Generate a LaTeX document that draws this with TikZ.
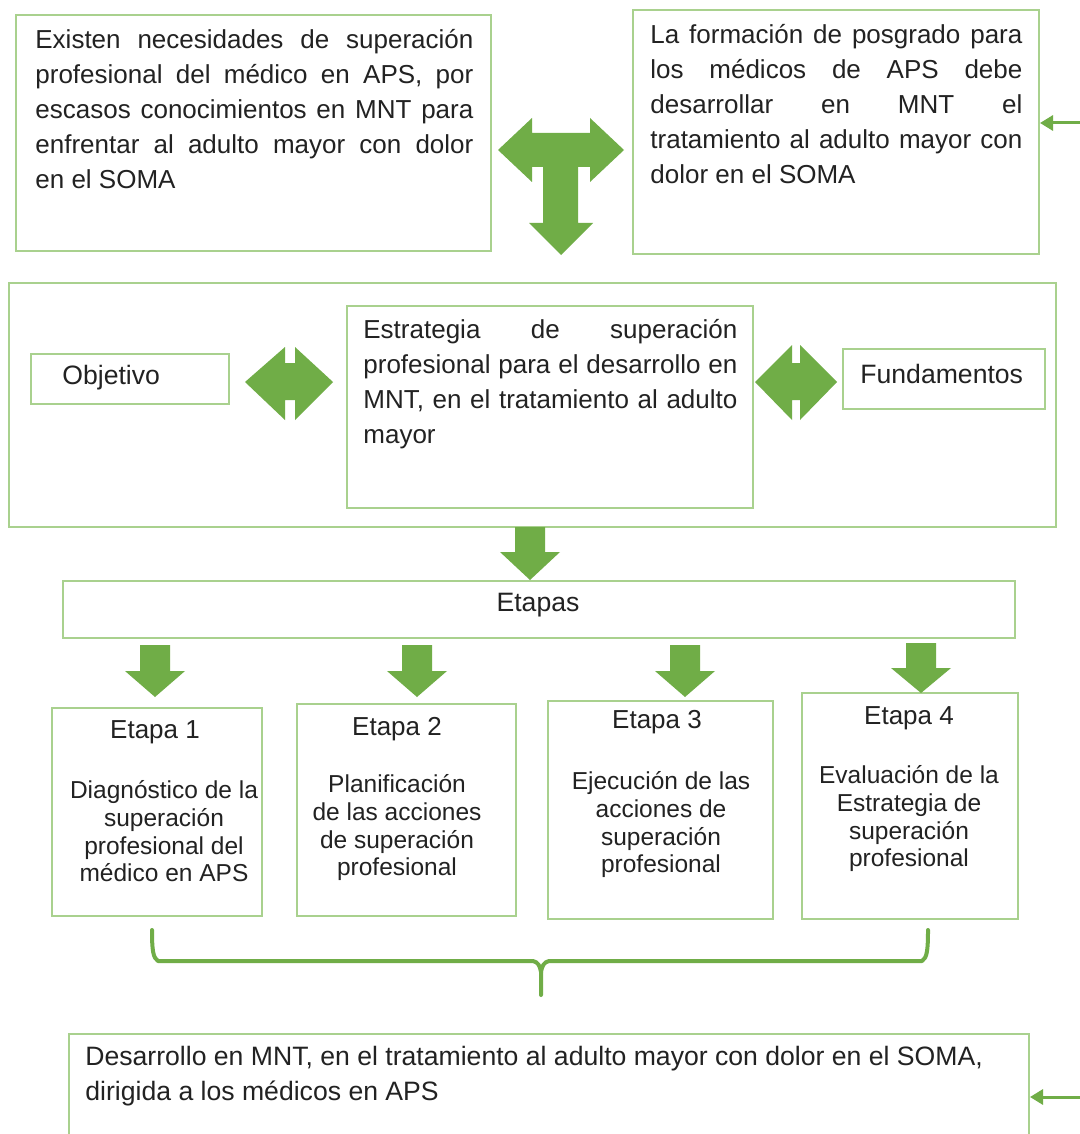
\documentclass[tikz,border=0pt]{standalone}
\usepackage{fontspec}
\setmainfont{Liberation Sans}
\usetikzlibrary{arrows.meta}
\definecolor{agreen}{HTML}{70AD47}
\definecolor{bgreen}{HTML}{A9D18E}
\definecolor{txt}{HTML}{222222}
\newcommand{\dnarrow}[4]{% center x, top y, head base y, tip y
  \fill[agreen] (#1-15,#2) -- (#1+15,#2) -- (#1+15,#3) -- (#1+30,#3) -- (#1,#4) -- (#1-30,#3) -- (#1-15,#3) -- cycle;}
\hyphenpenalty=10000
\exhyphenpenalty=10000
\begin{document}
\begin{tikzpicture}[x=0.5pt,y=-0.5pt,
  box/.style={draw=bgreen,line width=1pt,inner sep=0pt,anchor=north west},
  bigtxt/.style={text=txt,inner sep=0pt,font=\fontsize{13}{17.5}\selectfont},
  lbltxt/.style={text=txt,inner sep=0pt,font=\fontsize{13.3}{17.5}\selectfont},
  jtxt/.style={bigtxt,anchor=north west,align=justify},
  stxt/.style={text=txt,inner sep=0pt,anchor=north,align=center,font=\fontsize{12.25}{13.9}\selectfont},
  edgearrow/.style={draw=agreen,line width=1.5pt,-{Triangle[length=6.5pt,width=7.5pt]}},
  brace/.style={draw=agreen,line width=2pt,line join=round,line cap=round}]
\clip (0,0) rectangle (1080,1134);
\fill[white] (0,0) rectangle (1080,1134);

% boxes
\node[box,minimum width=237.5pt,minimum height=118pt] (b1) at (15,14) {};
\node[box,minimum width=203pt,minimum height=122pt] (b2) at (632,9) {};
\node[box,minimum width=523.5pt,minimum height=122pt] (mid) at (8,282) {};
\node[box,minimum width=99pt,minimum height=25pt] (obj) at (30,353) {};
\node[box,minimum width=203pt,minimum height=101pt] (strat) at (346,305) {};
\node[box,minimum width=101pt,minimum height=30pt] (fund) at (842,348) {};
\node[box,minimum width=476pt,minimum height=28.5pt] (etapas) at (62,580) {};
\node[box,minimum width=105pt,minimum height=104pt] (e1) at (51,707) {};
\node[box,minimum width=109.5pt,minimum height=106pt] (e2) at (296,703) {};
\node[box,minimum width=112.5pt,minimum height=109pt] (e3) at (547,700) {};
\node[box,minimum width=108pt,minimum height=113pt] (e4) at (801,692) {};
\node[box,minimum width=480pt,minimum height=60pt] (fin) at (68,1033) {};

% texts
\node[jtxt,text width=219pt] (t1) at (35,29) {Existen necesidades de superación\linebreak profesional del médico en APS, por\linebreak escasos conocimientos en MNT para\linebreak enfrentar al adulto mayor con dolor\linebreak en el SOMA};
\node[jtxt,text width=186pt] (t2) at (650,24) {La formación de posgrado para\linebreak los médicos de APS debe\linebreak desarrollar en MNT el\linebreak tratamiento al adulto mayor con\linebreak dolor en el SOMA};
\node[jtxt,text width=187pt] (tstrat) at (363,319) {Estrategia de superación\linebreak profesional para el desarrollo en\linebreak MNT, en el tratamiento al adulto\linebreak mayor};
\node[lbltxt,anchor=west] (tobj) at (62,378) {Objetivo};
\node[lbltxt,anchor=west] (tfund) at (860,374) {Fundamentos};
\node[lbltxt] (tetapas) at (538,605) {Etapas};
\node[bigtxt] (h1) at (155,732) {Etapa 1};
\node[bigtxt] (h2) at (397,729) {Etapa 2};
\node[bigtxt] (h3) at (657,722) {Etapa 3};
\node[bigtxt] (h4) at (909,718) {Etapa 4};
\node[stxt] (s1) at (164,780) {Diagnóstico de la\\superación\\profesional del\\médico en APS};
\node[stxt] (s2) at (397,774) {Planificación\\de las acciones\\de superación\\profesional};
\node[stxt] (s3) at (661,771) {Ejecución de las\\acciones de\\superación\\profesional};
\node[stxt] (s4) at (909,765) {Evaluación de la\\Estrategia de\\superación\\profesional};
\node[lbltxt,anchor=north west,align=left] (tfin) at (85,1046) {Desarrollo en MNT, en el tratamiento al adulto mayor con dolor en el SOMA,\\dirigida a los médicos en APS};

% T-shaped block arrow
\fill[agreen] (498,150) -- (532,118) -- (532,133) -- (590,133) -- (590,118) -- (624,150) -- (590,182) -- (590,167) -- (578,167) -- (578,223) -- (593,223) -- (561,255) -- (529,223) -- (543,223) -- (543,167) -- (532,167) -- (532,182) -- cycle;

% double block arrows
\fill[agreen] (245,382) -- (285,347) -- (285,363) -- (295,363) -- (295,347) -- (333,382) -- (295,420) -- (295,400) -- (285,400) -- (285,420) -- cycle;
\fill[agreen] (755,382) -- (792,345) -- (792,363) -- (800,363) -- (800,345) -- (837,382) -- (800,420) -- (800,400) -- (792,400) -- (792,420) -- cycle;

% down block arrows
\dnarrow{530}{527}{552}{580}
\dnarrow{155}{645}{671}{697}
\dnarrow{417}{645}{671}{697}
\dnarrow{685}{645}{671}{697}
\dnarrow{921}{643}{668}{693}

% edge arrows
\coordinate (r1) at (1082,123);
\coordinate (r2) at (1082,1097);
\draw[edgearrow] (r1) -- (b2.east |- r1);
\draw[edgearrow] (r2) -- (fin.east |- r2);

% brace
\coordinate (bl) at (152,930);
\coordinate (br) at (928,930);
\coordinate (bt) at (541,995);
\draw[brace] (bl) .. controls (152,950) and (153,958) .. (158,961) -- (533,961) .. controls (538,962) and (540,966) .. (541,972) -- (bt);
\draw[brace] (br) .. controls (928,950) and (927,958) .. (922,961) -- (549,961) .. controls (544,962) and (542,966) .. (541,972);
\end{tikzpicture}
\end{document}
